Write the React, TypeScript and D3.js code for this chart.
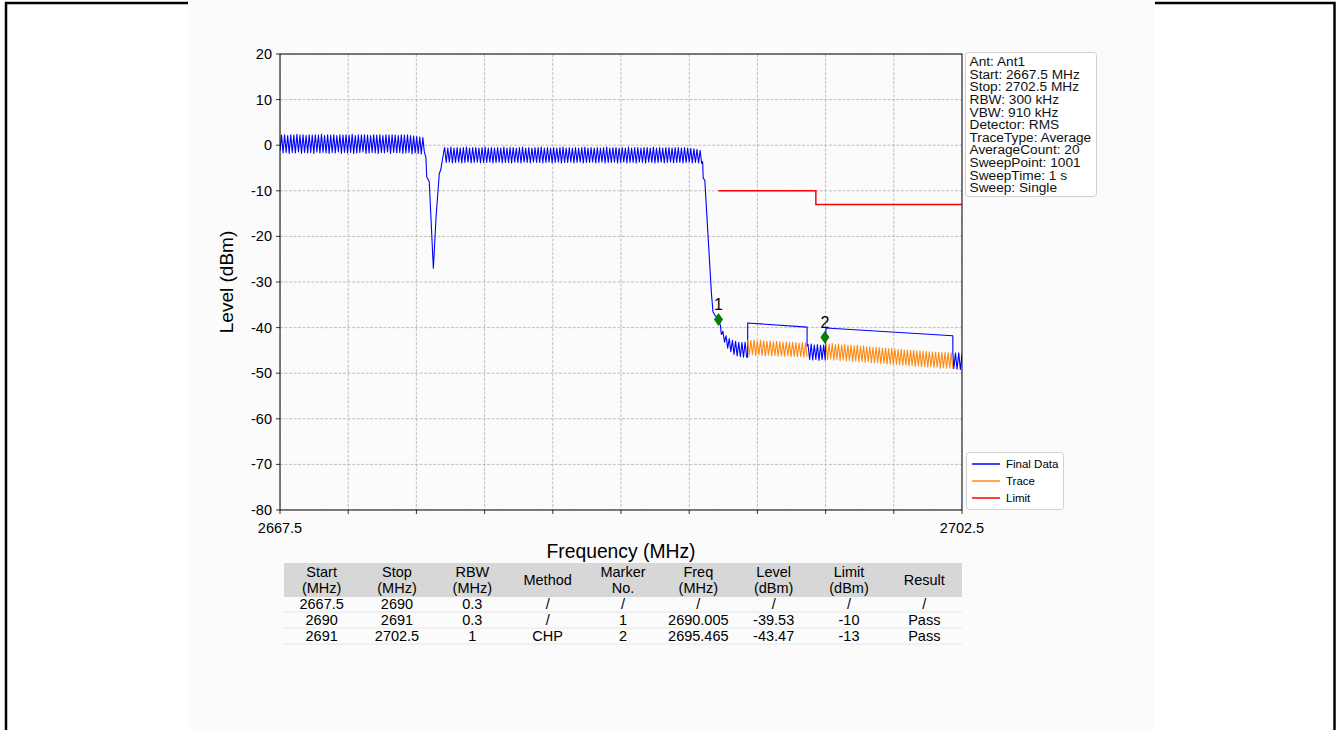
import React from "react";
import * as d3 from "d3";

// ---------- data ----------
const sweepStart = 2667.5;
const sweepStop = 2702.5;
const xTicks = [2667.5, 2671, 2674.5, 2678, 2681.5, 2685, 2688.5, 2692, 2695.5, 2699, 2702.5];
const xTickLabels = ["2667.5", "", "", "", "", "", "", "", "", "", "2702.5"];
const yTicks = [20, 10, 0, -10, -20, -30, -40, -50, -60, -70, -80];

// ripple section A (2667.5 -> 2674.83)
const segA = [
  -1.2, 2.2, -1.7, 2.3, -1.6, 2.1, -1.8, 2.3, -1.6, 2.2,
  -1.7, 2.4, -1.5, 2.2, -1.8, 2.3, -1.6, 2.1, -1.7, 2.3,
  -1.6, 2.2, -1.8, 2.3, -1.5, 2.2, -1.7, 2.4, -1.6, 2.1,
  -1.7, 2.3, -1.8, 2.2, -1.6, 2.3, -1.7, 2.1, -1.5, 2.3,
  -1.8, 2.2, -1.6, 2.3, -1.7, 2.2, -1.6, 2.4, -1.8, 2.1,
  -1.7, 2.3, -1.6, 2.2, -1.5, 2.3, -1.8, 2.2, -1.7, 2.1,
  -1.6, 2.3, -1.7, 2.2, -1.8, 2.3, -1.6, 2.1, -1.7, 2.3,
  -1.5, 2.2, -1.8, 2.3, -1.6, 2.2, -1.7, 2.1, -1.6, 2.3,
  -1.8, 2.2, -1.7, 2.3, -1.6, 2.1, -1.9, 2.0, -1.7, 1.9,
  -1.8, 1.8, -1.9, 1.7,
];
const dipPoints: [number, number][] = [
  [2674.905, -1.4], [2674.99, -2.8], [2675.03, -6.9], [2675.16, -8.0], [2675.37, -27.0],
  [2675.51, -15.7], [2675.675, -6.2], [2675.75, -5.4], [2675.85, -2.8], [2675.92, -1.1],
];
// ripple section B (2675.95 -> 2689.14)
const segB = [
  -0.5, -3.8, -0.6, -3.7, -0.4, -3.9, -0.6, -3.8, -0.5, -3.7,
  -0.6, -3.9, -0.5, -3.8, -0.4, -3.7, -0.6, -3.9, -0.5, -3.8,
  -0.5, -3.7, -0.6, -3.9, -0.5, -3.8, -0.4, -3.8, -0.6, -3.7,
  -0.5, -3.9, -0.6, -3.8, -0.5, -3.7, -0.6, -3.9, -0.4, -3.8,
  -0.6, -3.8, -0.5, -3.9, -0.5, -3.7, -0.6, -3.8, -0.5, -3.9,
  -0.4, -3.7, -0.6, -3.8, -0.5, -3.9, -0.6, -3.7, -0.5, -3.8,
  -0.5, -3.8, -0.4, -3.9, -0.6, -3.8, -0.5, -3.7, -0.6, -3.9,
  -0.5, -3.8, -0.6, -3.7, -0.5, -3.9, -0.4, -3.8, -0.6, -3.8,
  -0.5, -3.7, -0.6, -3.9, -0.5, -3.8, -0.6, -3.7, -0.5, -3.9,
  -0.4, -3.8, -0.6, -3.8, -0.5, -3.7, -0.6, -3.9, -0.5, -3.8,
  -0.6, -3.7, -0.5, -3.9, -0.4, -3.8, -0.6, -3.8, -0.5, -3.7,
  -0.5, -3.9, -0.6, -3.8, -0.5, -3.7, -0.6, -3.9, -0.4, -3.8,
  -0.6, -3.8, -0.5, -3.9, -0.5, -3.7, -0.6, -3.8, -0.5, -3.9,
  -0.5, -3.7, -0.6, -3.8, -0.4, -3.9, -0.6, -3.8, -0.5, -3.7,
  -0.6, -3.9, -0.5, -3.8, -0.5, -3.7, -0.6, -3.9, -0.5, -3.8,
  -0.5, -3.8, -0.6, -3.9, -0.5, -3.8, -0.6, -3.7, -0.7, -3.9,
  -0.8, -3.8, -0.9, -3.9, -1.1, -4.0,
];
const dropPoints: [number, number][] = [
  [2689.19, -3.6], [2689.22, -7.3], [2689.3, -7.6], [2689.64, -32.5], [2689.72, -36.5],
  [2689.81, -37.2], [2690.0, -38.2], [2690.1, -39.5],
];
// ripple section C (2690.15 -> 2691.45)
const segC = [-41.5, -40.8, -43.2, -41.8, -44.5, -42.4, -45.3, -42.8, -45.9, -43.0, -46.2, -43.2, -46.4, -43.3, -46.5, -43.2, -46.5];
const chp1Points: [number, number][] = [[2691.5, -46.5], [2691.5, -39.0], [2694.55, -39.9], [2694.55, -44.0]];
// ripple section D (2694.6 -> 2695.48)
const segD = [-43.7, -47.0, -43.6, -47.1, -43.8, -47.0, -43.7, -47.2, -43.9, -47.0, -43.8, -47.1];
const chp2Points: [number, number][] = [[2695.52, -40.1], [2702.03, -41.8], [2702.03, -45.5]];
// ripple section E (2702.08 -> 2702.5)
const segE = [-49.0, -45.6, -49.1, -45.5, -49.2, -45.8];

// Trace (orange) ripple sections
const trace1 = [
  -42.7, -46.0, -42.8, -45.9, -42.7, -46.1, -42.9, -46.0, -42.8, -46.1,
  -42.9, -46.2, -43.0, -46.0, -42.9, -46.2, -43.1, -46.1, -43.0, -46.3,
  -43.1, -46.2, -43.2, -46.3, -43.1, -46.2, -43.3, -46.4, -43.2, -46.3,
  -43.3, -46.4, -43.4, -46.3, -43.3, -46.5, -43.4, -46.4,
];
const trace2 = [
  -43.5, -47.0, -43.6, -46.9, -43.5, -47.1, -43.7, -47.0, -43.6, -47.2,
  -43.8, -47.1, -43.7, -47.3, -43.9, -47.2, -43.8, -47.4, -44.0, -47.3,
  -43.9, -47.5, -44.1, -47.4, -44.0, -47.6, -44.2, -47.5, -44.2, -47.7,
  -44.3, -47.8, -44.3, -47.7, -44.4, -47.9, -44.5, -47.8, -44.5, -48.0,
  -44.6, -48.0, -44.6, -48.1, -44.7, -48.1, -44.8, -48.2, -44.7, -48.3,
  -44.9, -48.2, -44.9, -48.4, -45.0, -48.3, -45.0, -48.5, -45.1, -48.4,
  -45.1, -48.6, -45.2, -48.5, -45.2, -48.7, -45.3, -48.6, -45.3, -48.8,
  -45.4, -48.7, -45.4, -48.9, -45.5, -48.8, -45.5, -48.9, -45.5, -48.9,
  -45.6, -49.0,
];

const limitPoints: [number, number][] = [[2690.0, -10], [2695.0, -10], [2695.0, -13], [2702.5, -13]];

const markerFreqs = [2690.005, 2695.465];
const markerLevels = [-38.2, -42.1];
const markerLabels = ["1", "2"];

const infoLines = [
  "Ant: Ant1", "Start: 2667.5 MHz", "Stop: 2702.5 MHz", "RBW: 300 kHz", "VBW: 910 kHz",
  "Detector: RMS", "TraceType: Average", "AverageCount: 20", "SweepPoint: 1001",
  "SweepTime: 1 s", "Sweep: Single",
];
const legendNames = ["Final Data", "Trace", "Limit"];
const legendColors = ["#0000ff", "#ff8a10", "#ff0000"];

const tableHeaders = [
  ["Start", "(MHz)"], ["Stop", "(MHz)"], ["RBW", "(MHz)"], ["Method"], ["Marker", "No."],
  ["Freq", "(MHz)"], ["Level", "(dBm)"], ["Limit", "(dBm)"], ["Result"],
];
const tableRows = [
  ["2667.5", "2690", "0.3", "/", "/", "/", "/", "/", "/"],
  ["2690", "2691", "0.3", "/", "1", "2690.005", "-39.53", "-10", "Pass"],
  ["2691", "2702.5", "1", "CHP", "2", "2695.465", "-43.47", "-13", "Pass"],
];

// ---------- helpers ----------
function ripple(from: number, to: number, levels: number[]): [number, number][] {
  const step = (to - from) / (levels.length - 1);
  return levels.map((v, i) => [from + i * step, v] as [number, number]);
}

const finalData: [number, number][] = [
  ...ripple(2667.5, 2674.83, segA),
  ...dipPoints,
  ...ripple(2675.95, 2689.14, segB),
  ...dropPoints,
  ...ripple(2690.15, 2691.45, segC),
  ...chp1Points,
  ...ripple(2694.6, 2695.48, segD),
  ...chp2Points,
  ...ripple(2702.08, 2702.5, segE),
];
const traceSegs: [number, number][][] = [
  ripple(2691.5, 2694.55, trace1),
  ripple(2695.52, 2702.03, trace2),
];

const FONT = "'Liberation Sans', Arial, Helvetica, sans-serif";

export default function App() {
  const L = 280, R = 962, T = 54, B = 510;
  const x = d3.scaleLinear().domain([sweepStart, sweepStop]).range([L, R]);
  const y = d3.scaleLinear().domain([-80, 20]).range([B, T]);
  const line = d3.line<[number, number]>().x((d) => x(d[0])).y((d) => y(d[1]));

  const col = d3.scaleBand<number>().domain(d3.range(tableHeaders.length)).range([284, 962]);
  const rowY = d3.scaleLinear().domain([0, 1]).range([604, 620]);

  return (
    <div style={{ position: "fixed", left: 0, top: 0 }}>
      <svg width={1338} height={730} style={{ display: "block", fontFamily: FONT }}>
        <rect x={0} y={0} width={1338} height={730} fill="#ffffff" />
        {/* outer frame */}
        <rect x={6} y={3} width={1328.5} height={760} fill="none" stroke="#000" strokeWidth={2.5} />
        {/* chart image area */}
        <rect x={188} y={0} width={967} height={730} fill="#fbfbfb" />

        <defs>
          <clipPath id="plotclip">
            <rect x={L} y={T} width={R - L} height={B - T} />
          </clipPath>
        </defs>

        {/* grid */}
        <g clipPath="url(#plotclip)">
          {xTicks.map((t, i) => (
            <line key={"gx" + i} x1={x(t)} x2={x(t)} y1={T} y2={B} stroke="#b0b0b0" strokeWidth={0.8} strokeDasharray="3,1.5" />
          ))}
          {yTicks.map((t, i) => (
            <line key={"gy" + i} x1={L} x2={R} y1={y(t)} y2={y(t)} stroke="#b0b0b0" strokeWidth={0.8} strokeDasharray="3,1.5" />
          ))}
        </g>

        {/* series */}
        <g clipPath="url(#plotclip)">
          <path d={line(finalData) || ""} fill="none" stroke="#0000ff" strokeWidth={1.1} strokeLinejoin="round" />
          {traceSegs.map((s, i) => (
            <path key={"tr" + i} d={line(s) || ""} fill="none" stroke="#ff8a10" strokeWidth={1.1} strokeLinejoin="round" />
          ))}
          <path d={line(limitPoints) || ""} fill="none" stroke="#ff0000" strokeWidth={1.5} />
        </g>

        {/* markers */}
        {markerFreqs.map((f, i) => {
          const cx = x(f), cy = y(markerLevels[i]);
          return (
            <g key={"mk" + i}>
              <path d={`M${cx},${cy - 6.5}L${cx + 4.5},${cy}L${cx},${cy + 6.5}L${cx - 4.5},${cy}Z`} fill="#0a7a0a" />
              <text x={cx} y={cy - 9} textAnchor="middle" fontSize={16} fill="#000">{markerLabels[i]}</text>
            </g>
          );
        })}

        {/* plot frame */}
        <rect x={L} y={T} width={R - L} height={B - T} fill="none" stroke="#000" strokeWidth={1} />

        {/* y axis */}
        {yTicks.map((t, i) => (
          <g key={"yt" + i}>
            <line x1={L - 4} x2={L} y1={y(t)} y2={y(t)} stroke="#000" strokeWidth={0.8} />
            <text x={L - 8} y={y(t)} dy="0.35em" textAnchor="end" fontSize={14.5} fill="#000">{t}</text>
          </g>
        ))}
        {/* x axis */}
        {xTicks.map((t, i) => (
          <g key={"xt" + i}>
            <line x1={x(t)} x2={x(t)} y1={B} y2={B + 4} stroke="#000" strokeWidth={0.8} />
            {xTickLabels[i] && (
              <text x={x(t)} y={B + 18} dy="0.35em" textAnchor="middle" fontSize={14.5} fill="#000">{xTickLabels[i]}</text>
            )}
          </g>
        ))}
        <text x={(L + R) / 2} y={551} dy="0.35em" textAnchor="middle" fontSize={19.3} fill="#000">Frequency (MHz)</text>
        <text transform={`translate(226,${(T + B) / 2}) rotate(-90)`} dy="0.35em" textAnchor="middle" fontSize={19} fill="#000">Level (dBm)</text>

        {/* info box */}
        <rect x={965.5} y={52.5} width={131} height={144} rx={3} fill="#ffffff" stroke="#d0d0d0" strokeWidth={1} />
        {infoLines.map((s, i) => (
          <text key={"in" + i} x={969.5} y={61.5 + i * 12.6} dy="0.35em" fontSize={13.7} fill="#111">{s}</text>
        ))}

        {/* legend */}
        <rect x={966.5} y={452.5} width={97} height={57} rx={3} fill="#ffffff" stroke="#d0d0d0" strokeWidth={1} />
        {legendNames.map((n, i) => (
          <g key={"lg" + i}>
            <line x1={972} x2={1000} y1={464 + i * 17} y2={464 + i * 17} stroke={legendColors[i]} strokeWidth={1.5} />
            <text x={1006} y={464 + i * 17} dy="0.35em" fontSize={11.5} fill="#000">{n}</text>
          </g>
        ))}

        {/* table */}
        <rect x={284} y={563} width={678} height={34} fill="#d7d7d7" />
        {tableRows.map((_, r) => (
          <line key={"tl" + r} x1={284} x2={962} y1={rowY(r) + 8} y2={rowY(r) + 8} stroke="#e6e6e6" strokeWidth={1} />
        ))}
        {tableHeaders.map((h, c) => {
          const cx = (col(c) || 0) + col.bandwidth() / 2;
          return h.length === 2 ? (
            <g key={"th" + c}>
              <text x={cx} y={572} dy="0.35em" textAnchor="middle" fontSize={14.5} fill="#000">{h[0]}</text>
              <text x={cx} y={587.5} dy="0.35em" textAnchor="middle" fontSize={14.5} fill="#000">{h[1]}</text>
            </g>
          ) : (
            <text key={"th" + c} x={cx} y={580} dy="0.35em" textAnchor="middle" fontSize={14.5} fill="#000">{h[0]}</text>
          );
        })}
        {tableRows.map((row, r) =>
          row.map((v, c) => (
            <text key={"td" + r + "-" + c} x={(col(c) || 0) + col.bandwidth() / 2} y={rowY(r)} dy="0.35em" textAnchor="middle" fontSize={14.5} fill="#000">{v}</text>
          ))
        )}
      </svg>
    </div>
  );
}
